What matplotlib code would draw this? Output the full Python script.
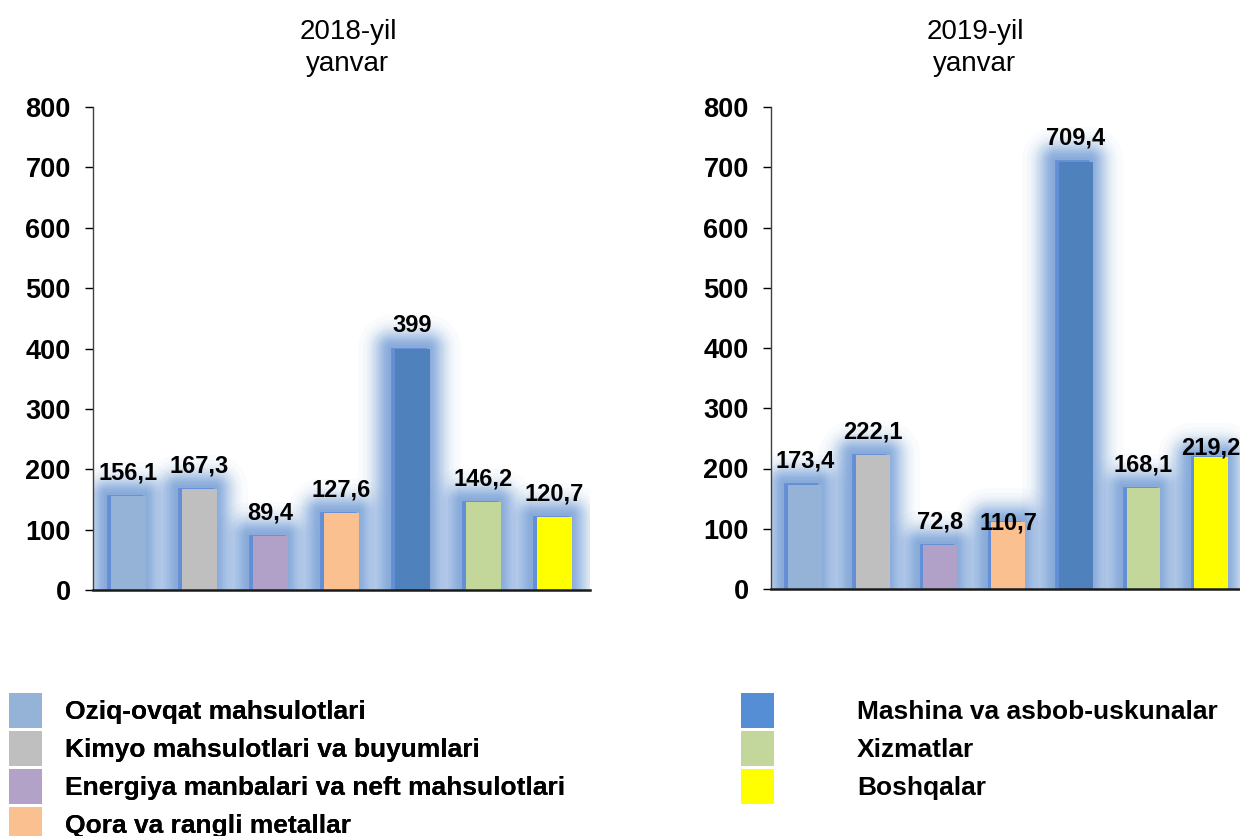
import matplotlib
matplotlib.use("Agg")
import matplotlib.pyplot as plt
from matplotlib.patches import Patch
import matplotlib.patheffects as pe
import numpy as np

plt.rcParams['font.family'] = ['Liberation Sans', 'DejaVu Sans']

# ---- data ----
categories = [
    "Oziq-ovqat mahsulotlari",
    "Kimyo mahsulotlari va buyumlari",
    "Energiya manbalari va neft mahsulotlari",
    "Qora va rangli metallar",
    "Mashina va asbob-uskunalar",
    "Xizmatlar",
    "Boshqalar",
]
values_2018 = [156.1, 167.3, 89.4, 127.6, 399.0, 146.2, 120.7]
labels_2018 = ["156,1", "167,3", "89,4", "127,6", "399", "146,2", "120,7"]
values_2019 = [173.4, 222.1, 72.8, 110.7, 709.4, 168.1, 219.2]
labels_2019 = ["173,4", "222,1", "72,8", "110,7", "709,4", "168,1", "219,2"]
titles = ["2018-yil\nyanvar", "2019-yil\nyanvar"]
yticks = [0, 100, 200, 300, 400, 500, 600, 700, 800]

# ---- style ----
bar_colors = ["#95B3D7", "#BFBFBF", "#B1A0C7", "#FAC090", "#4F81BD", "#C4D79B", "#FFFF00"]
legend_colors = ["#95B3D7", "#BFBFBF", "#B3A2C7", "#FAC090", "#558ED5", "#C3D69B", "#FFFF00"]
glow_color = "#5A8FD6"
# label offsets in points above bar top (baseline)
offsets_2018 = [12, 12, 12, 12, 12, 12, 12]
offsets_2019 = [12, 12, 12, -5, 12, 12, 1.5]

W, H = 1240, 836
fig = plt.figure(figsize=(W / 100, H / 100), dpi=100)

ax1 = fig.add_axes([93 / W, 246 / H, 497 / W, 483 / H])
ax2 = fig.add_axes([771 / W, 247 / H, 474 / W, 482 / H])

# soft gaussian-like glow built from stacked translucent round-joined strokes
n_glow = 30
glow_peak = 0.64          # opacity right at the bar edge
glow_sigma_pt = 12.5      # spread of the glow
glow_alpha = 1 - (1 - glow_peak) ** (1 / n_glow)
k = np.arange(1, n_glow + 1)
op = 1 - (1 - glow_peak) ** ((k - 0.5) / n_glow)
half_widths = glow_sigma_pt * np.sqrt(-np.log(op / glow_peak))
glow_effects = [pe.Stroke(linewidth=2 * h + 0.5, foreground=glow_color, alpha=glow_alpha,
                          offset=(-2.5, 0.8), joinstyle="round")
                for h in sorted(half_widths, reverse=True)]


def draw(ax, vals, labs, offs, title_x, title):
    x = np.arange(len(vals))
    glow = ax.bar(x, vals, width=0.5, color=glow_color, zorder=1)
    for p in glow:
        p.set_path_effects(glow_effects)
    ax.bar(x, vals, width=0.5, color=bar_colors, zorder=2)
    for xi, v, lab, off in zip(x, vals, labs, offs):
        ax.annotate(lab, (xi, v), xytext=(0, off), textcoords="offset points",
                    ha="center", va="baseline", fontsize=17, fontweight="bold",
                    annotation_clip=False, zorder=3)
    ax.set_xlim(-0.5, len(vals) - 0.5)
    ax.set_ylim(0, 800)
    ax.set_yticks(yticks)
    ax.set_xticks([])
    ax.tick_params(axis="y", length=6, width=1, pad=10, labelsize=19.5, colors="#000000")
    for t in ax.get_yticklabels():
        t.set_fontweight("bold")
    for s in ["top", "right"]:
        ax.spines[s].set_visible(False)
    ax.spines["left"].set_color("#404040")
    ax.spines["left"].set_linewidth(1.0)
    ax.spines["bottom"].set_color("#1a1a1a")
    ax.spines["bottom"].set_linewidth(1.8)
    ax.spines["bottom"].set_zorder(4)
    ax.patch.set_alpha(0)
    fig.text(title_x, 1 - 48 / H, title, ha="center", va="center", fontsize=20,
             linespacing=1.3)


draw(ax1, values_2018, labels_2018, offsets_2018, 348 / W, titles[0])
draw(ax2, values_2019, labels_2019, offsets_2019, 975 / W, titles[1])

handles = [Patch(facecolor=c, edgecolor="none") for c in legend_colors]
fs = 19
fpx = fs * 100 / 72
hh = (35 / fpx - 0.245) / 0.65   # gives a 35 px tall legend patch
leg_kw = dict(frameon=False, borderpad=0, borderaxespad=0,
              handleheight=hh, handlelength=33 / fpx,
              labelspacing=3 / fpx, loc="upper left",
              prop={"weight": "bold", "size": fs})
leg1 = fig.legend(handles[:4], categories[:4], bbox_to_anchor=(9 / W, 143 / H),
                  handletextpad=23 / fpx, **leg_kw)
fig.add_artist(leg1)
leg2 = fig.legend(handles[4:], categories[4:], bbox_to_anchor=(741 / W, 143 / H),
                  handletextpad=83 / fpx, **leg_kw)

fig.savefig("out.png", dpi=100)
